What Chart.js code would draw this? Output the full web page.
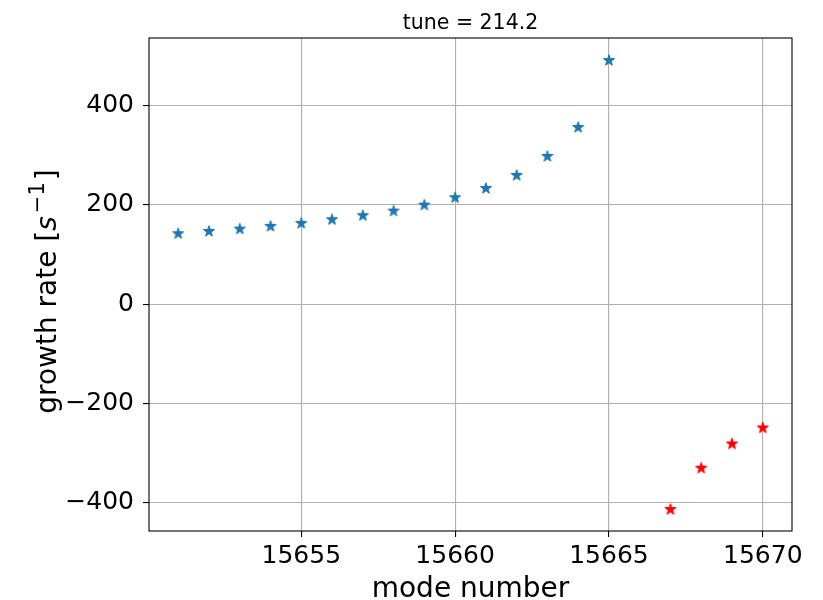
<!DOCTYPE html>
<html><head><meta charset="utf-8">
<script src="https://cdn.jsdelivr.net/npm/chart.js@4/dist/chart.umd.min.js"></script>
<style>html,body{margin:0;padding:0;background:#fff}</style>
</head><body>
<canvas id="c" width="823" height="600"></canvas>
<script>
// ---- data ----
const modeBlue = [15651,15652,15653,15654,15655,15656,15657,15658,15659,15660,15661,15662,15663,15664,15665];
const rateBlue = [143,147.6,152.3,157.7,163.7,171.2,179.3,188.5,200.6,215.5,234.2,260.4,298.7,357.1,492];
const modeRed = [15667,15668,15669,15670];
const rateRed = [-412.9,-329.7,-280.8,-248.5];
const xTicks = [15655,15660,15665,15670];
const yTicks = [-400,-200,0,200,400];
const titleText = 'tune = 214.2';
const xLabel = 'mode number';

const FONT = "'DejaVu Sans', sans-serif";

function makeStar(color){
  const cv = document.createElement('canvas');
  cv.width = 18; cv.height = 18;
  const g = cv.getContext('2d');
  const R = 5.6, r = R*0.381966, cx = 9, cy = 9.4;
  g.beginPath();
  for(let i=0;i<10;i++){
    const ang = -Math.PI/2 + i*Math.PI/5;
    const rr = i%2===0 ? R : r;
    const px = cx + rr*Math.cos(ang), py = cy + rr*Math.sin(ang);
    if(i===0) g.moveTo(px,py); else g.lineTo(px,py);
  }
  g.closePath();
  g.fillStyle = color; g.strokeStyle = color; g.lineWidth = 1.1; g.lineJoin='round';
  g.fill(); g.stroke();
  return cv;
}

const decor = {
  id:'decor',
  afterDraw(chart){
    const ctx = chart.ctx, a = chart.chartArea;
    ctx.save();
    ctx.strokeStyle = '#000'; ctx.lineWidth = 1.1;
    ctx.strokeRect(a.left, a.top, a.right-a.left, a.bottom-a.top);
    ctx.fillStyle = '#000';
    // title
    ctx.font = '20.5px ' + FONT;
    ctx.textAlign = 'center'; ctx.textBaseline = 'alphabetic';
    ctx.fillText(titleText, (a.left+a.right)/2, 29);
    // x label
    ctx.font = '28px ' + FONT;
    ctx.fillText(xLabel, (a.left+a.right)/2, 597);
    // y label with italic s and superscript
    const parts = [
      {t:'growth rate [', f:'28px '+FONT, dy:0, gap:0},
      {t:'s', f:'italic 28px '+FONT, dy:0, gap:3},
      {t:'\u22121', f:'21px '+FONT, dy:-12, gap:2},
      {t:']', f:'28px '+FONT, dy:0, gap:0}
    ];
    let total = 0;
    parts.forEach(p=>{ctx.font=p.f; p.w=ctx.measureText(p.t).width; total+=p.w+p.gap;});
    ctx.translate(56, 291.5);
    ctx.rotate(-Math.PI/2);
    ctx.textAlign = 'left';
    let u = -total/2;
    parts.forEach(p=>{ctx.font=p.f; ctx.fillText(p.t, u, p.dy); u += p.w + p.gap;});
    ctx.restore();
  }
};

const minus = v => v<0 ? '\u2212'+Math.abs(v) : String(v);

new Chart(document.getElementById('c'), {
  type:'scatter',
  data:{datasets:[
    {data: modeBlue.map((m,i)=>({x:m,y:rateBlue[i]})), pointStyle: makeStar('#1f77b4'), pointRadius:6, backgroundColor:'#1f77b4'},
    {data: modeRed.map((m,i)=>({x:m,y:rateRed[i]})), pointStyle: makeStar('#ff0000'), pointRadius:6, backgroundColor:'#ff0000'}
  ]},
  options:{
    responsive:false, animation:false, devicePixelRatio:1,
    layout:{padding:{left:0, top:38, right:31, bottom:0}},
    plugins:{legend:{display:false}, tooltip:{enabled:false}, title:{display:false}},
    scales:{
      x:{type:'linear', position:'bottom', min:15650.05, max:15670.95,
        afterBuildTicks: s => { s.ticks = xTicks.map(v=>({value:v})); },
        afterFit: s => { s.height = 69; },
        ticks:{font:{family:FONT, size:25}, color:'#000', padding:4, maxRotation:0, autoSkip:false, callback: v=>String(v)},
        grid:{color:'#b0b0b0', lineWidth:1.1, tickColor:'#000', tickLength:6, tickWidth:1.1},
        border:{display:false}
      },
      y:{type:'linear', position:'left', min:-457.2, max:536.4,
        afterBuildTicks: s => { s.ticks = yTicks.map(v=>({value:v})); },
        afterFit: s => { s.width = 149; },
        ticks:{font:{family:FONT, size:25}, color:'#000', padding:9, autoSkip:false, callback: minus},
        grid:{color:'#b0b0b0', lineWidth:1.1, tickColor:'#000', tickLength:6, tickWidth:1.1},
        border:{display:false}
      }
    }
  },
  plugins:[decor]
});
</script>
</body></html>
